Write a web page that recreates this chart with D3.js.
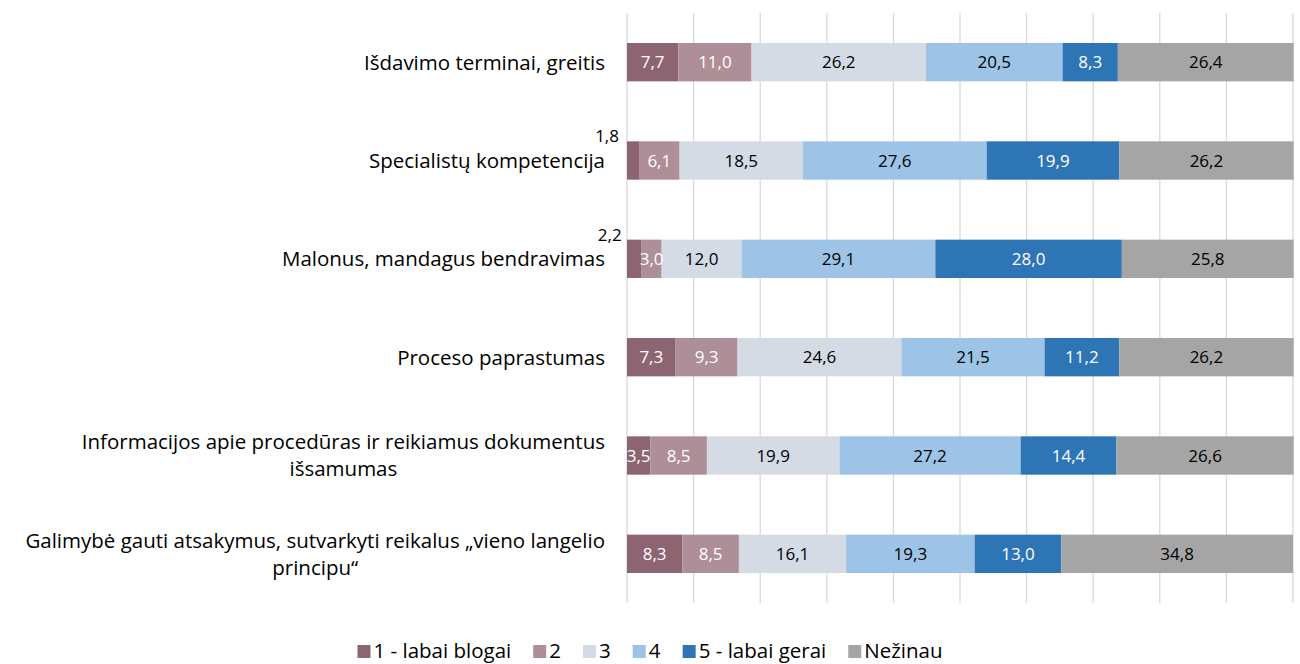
<!DOCTYPE html>
<html>
<head>
<meta charset="utf-8">
<script src="https://cdn.jsdelivr.net/npm/d3@7"></script>
<style>
  body { margin: 0; background: #fff; }
  svg text { font-family: "Open Sans", "Liberation Sans", sans-serif; }
</style>
</head>
<body>
<svg id="chart" width="1300" height="664"></svg>
<script>
// categories, top to bottom (lines split as in the original)
const categories = [
    ['Išdavimo terminai, greitis'],
    ['Specialistų kompetencija'],
    ['Malonus, mandagus bendravimas'],
    ['Proceso paprastumas'],
    ['Informacijos apie procedūras ir reikiamus dokumentus', 'išsamumas'],
    ['Galimybė gauti atsakymus, sutvarkyti reikalus „vieno langelio', 'principu“']
];
const seriesNames = ['1 - labai blogai', '2', '3', '4', '5 - labai gerai', 'Nežinau'];
const colors = ['#8d6571', '#ae8e97', '#d5dbe5', '#9dc3e6', '#2e75b6', '#a5a5a5'];
const labelColors = ['#fff', '#fff', '#000', '#000', '#fff', '#000'];

const s1 = [7.7, 1.8, 2.2, 7.3, 3.5, 8.3];
const s2 = [11.0, 6.1, 3.0, 9.3, 8.5, 8.5];
const s3 = [26.2, 18.5, 12.0, 24.6, 19.9, 16.1];
const s4 = [20.5, 27.6, 29.1, 21.5, 27.2, 19.3];
const s5 = [8.3, 19.9, 28.0, 11.2, 14.4, 13.0];
const s6 = [26.4, 26.2, 25.8, 26.2, 26.6, 34.8];
const series = [s1, s2, s3, s4, s5, s6];

const gridTicks = d3.range(0, 101, 10);

const svg = d3.select('#chart');
const fmt = v => v.toFixed(1).replace('.', ',');

const x = d3.scaleLinear().domain([0, 100]).range([627, 1293]);
const y = d3.scaleBand()
    .domain(d3.range(categories.length))
    .range([13, 603])
    .paddingInner(0.61)
    .paddingOuter(0.305);

// vertical gridlines
svg.append('g')
    .selectAll('line')
    .data(gridTicks)
    .join('line')
    .attr('x1', d => x(d)).attr('x2', d => x(d))
    .attr('y1', 13).attr('y2', 603)
    .attr('stroke', '#d9d9d9')
    .attr('stroke-width', 1.3);

// stacked segments
const rows = categories.map((c, i) => {
    let acc = 0;
    return series.map((s, k) => {
        const seg = { row: i, k: k, v: s[i], x0: acc, x1: acc + s[i] };
        acc += s[i];
        return seg;
    });
}).flat();

svg.append('g')
    .selectAll('rect')
    .data(rows)
    .join('rect')
    .attr('x', d => x(d.x0))
    .attr('y', d => y(d.row))
    .attr('width', d => x(d.x1) - x(d.x0))
    .attr('height', y.bandwidth())
    .attr('fill', d => colors[d.k]);

// value labels (tiny ones sit outside, above left like Excel moved them)
const small = d => d.v < 2.5;
svg.append('g')
    .selectAll('text')
    .data(rows)
    .join('text')
    .attr('x', d => small(d) ? x(d.x1) - 20 : x((d.x0 + d.x1) / 2))
    .attr('y', d => small(d) ? y(d.row) + 1 : y(d.row) + y.bandwidth() / 2)
    .attr('dy', d => small(d) ? '0' : '0.36em')
    .attr('text-anchor', d => small(d) ? 'end' : 'middle')
    .attr('font-size', 17)
    .attr('fill', d => small(d) ? '#000' : labelColors[d.k])
    .text(d => fmt(d.v));

// category labels, centred block, right aligned to axis
const catG = svg.append('g');
categories.forEach((lines, i) => {
    const t = catG.append('text')
        .attr('font-size', 20.5)
        .attr('fill', '#000')
        .attr('text-anchor', 'middle');
    const cy = y(i) + y.bandwidth() / 2;
    const lh = 27;
    lines.forEach((ln, j) => {
        t.append('tspan')
            .attr('y', cy + (j - (lines.length - 1) / 2) * lh)
            .attr('dy', '0.36em')
            .text(ln);
    });
    const w = d3.max(t.selectAll('tspan').nodes(), n => n.getComputedTextLength());
    t.selectAll('tspan').attr('x', 605 - w / 2);
});

// legend
const leg = svg.append('g').attr('transform', 'translate(0,651)');
const items = leg.selectAll('g')
    .data(seriesNames)
    .join('g');
items.append('rect')
    .attr('y', -6).attr('width', 13).attr('height', 13)
    .attr('fill', (d, i) => colors[i]);
items.append('text')
    .attr('x', 16)
    .attr('dy', '0.36em')
    .attr('font-size', 20.5)
    .text(d => d);
let lx = 0;
const offs = [];
items.each(function () {
    offs.push(lx);
    lx += this.getBBox().width + 22;
});
const total = lx - 22;
items.attr('transform', (d, i) => `translate(${650 - total / 2 + offs[i]},0)`);
</script>
</body>
</html>
